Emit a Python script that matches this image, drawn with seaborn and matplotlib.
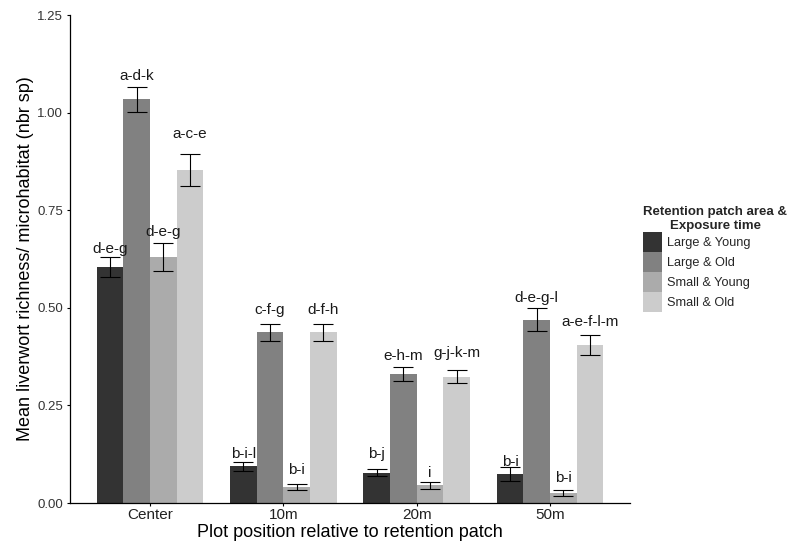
import matplotlib
matplotlib.use("Agg")
import matplotlib.pyplot as plt
from matplotlib.container import BarContainer
import seaborn as sns
import pandas as pd
import numpy as np

# ---- data ----
positions = ["Center", "10m", "20m", "50m"]
groups = ["Large & Young", "Large & Old", "Small & Young", "Small & Old"]

mean_large_young = [0.604, 0.094, 0.077, 0.074]
mean_large_old = [1.034, 0.437, 0.330, 0.470]
mean_small_young = [0.630, 0.041, 0.046, 0.026]
mean_small_old = [0.853, 0.437, 0.324, 0.404]

se_large_young = [0.026, 0.012, 0.009, 0.017]
se_large_old = [0.032, 0.021, 0.018, 0.030]
se_small_young = [0.035, 0.008, 0.009, 0.008]
se_small_old = [0.040, 0.021, 0.017, 0.026]

labels_large_young = ["d-e-g", "b-i-l", "b-j", "b-i"]
labels_large_old = ["a-d-k", "c-f-g", "e-h-m", "d-e-g-l"]
labels_small_young = ["d-e-g", "b-i", "i", "b-i"]
labels_small_old = ["a-c-e", "d-f-h", "g-j-k-m", "a-e-f-l-m"]

# heights (data units) at which the letter labels sit
labely_large_young = [0.651, 0.126, 0.126, 0.106]
labely_large_old = [1.094, 0.494, 0.377, 0.524]
labely_small_young = [0.694, 0.085, 0.076, 0.063]
labely_small_old = [0.945, 0.494, 0.383, 0.463]

y_ticks = [0.00, 0.25, 0.50, 0.75, 1.00, 1.25]

palette = ["#333333", "#818181", "#ABABAB", "#CCCCCC"]

means = [mean_large_young, mean_large_old, mean_small_young, mean_small_old]
ses = [se_large_young, se_large_old, se_small_young, se_small_old]
letters = [labels_large_young, labels_large_old, labels_small_young, labels_small_old]
labelys = [labely_large_young, labely_large_old, labely_small_young, labely_small_old]

rows = []
for g, m, s in zip(groups, means, ses):
    for p, mv, sv in zip(positions, m, s):
        rows.append({"position": p, "group": g, "mean": mv, "se": sv})
df = pd.DataFrame(rows)

# ---- figure ----
sns.set_theme(style="white")
plt.rcParams["font.family"] = ["Liberation Sans", "DejaVu Sans"]

fig = plt.figure(figsize=(7.91, 5.45), dpi=100)
ax = fig.add_axes([70 / 791, 1 - 503 / 545, 560 / 791, 488 / 545])

sns.barplot(data=df, x="position", y="mean", hue="group",
            order=positions, hue_order=groups, palette=palette,
            saturation=1, errorbar=None, linewidth=0, width=0.8, ax=ax)

bar_conts = [c for c in ax.containers if isinstance(c, BarContainer)]
for i, cont in enumerate(bar_conts):
    xs = [b.get_x() + b.get_width() / 2 for b in cont.patches]
    hs = [b.get_height() for b in cont.patches]
    ax.errorbar(xs, hs, yerr=ses[i], fmt="none", ecolor="black",
                elinewidth=0.8, capsize=7, capthick=0.8, zorder=3)
    for x, ly, t in zip(xs, labelys[i], letters[i]):
        ax.text(x, ly, t, ha="center", va="center", fontsize=11,
                color="#1a1a1a", zorder=4)

ax.set_xlim(-0.6, 3.6)
ax.set_ylim(0, 1.25)
ax.set_yticks(y_ticks)
ax.set_yticklabels([f"{v:.2f}" for v in y_ticks])

for side in ["top", "right"]:
    ax.spines[side].set_visible(False)
for side in ["left", "bottom"]:
    ax.spines[side].set_color("black")
    ax.spines[side].set_linewidth(0.9)

ax.tick_params(axis="x", length=2.5, width=0.8, pad=1.2, labelsize=11,
               colors="black", labelcolor="#222222", bottom=True)
ax.tick_params(axis="y", length=2.5, width=0.8, pad=2.5, labelsize=9.5,
               colors="black", labelcolor="#333333", left=True)

ax.set_xlabel("Plot position relative to retention patch", fontsize=13,
              labelpad=1, color="black")
ax.set_ylabel("Mean liverwort richness/ microhabitat (nbr sp)", fontsize=13,
              labelpad=2, color="black")

handles, labs = ax.get_legend_handles_labels()
if ax.get_legend() is not None:
    ax.get_legend().remove()
leg = fig.legend(handles, labs, title="Retention patch area &\nExposure time",
                 loc="upper left", bbox_to_anchor=(643 / 791, 1 - 206 / 545),
                 bbox_transform=fig.transFigure, frameon=False,
                 fontsize=9.2, title_fontsize=9.5, borderpad=0, borderaxespad=0,
                 handlelength=1.48, handleheight=2.05, handletextpad=0.4,
                 labelspacing=0, alignment="left")
leg.get_title().set_fontweight("bold")
leg.get_title().set_multialignment("center")

fig.savefig("out.png", dpi=100, facecolor="white")
